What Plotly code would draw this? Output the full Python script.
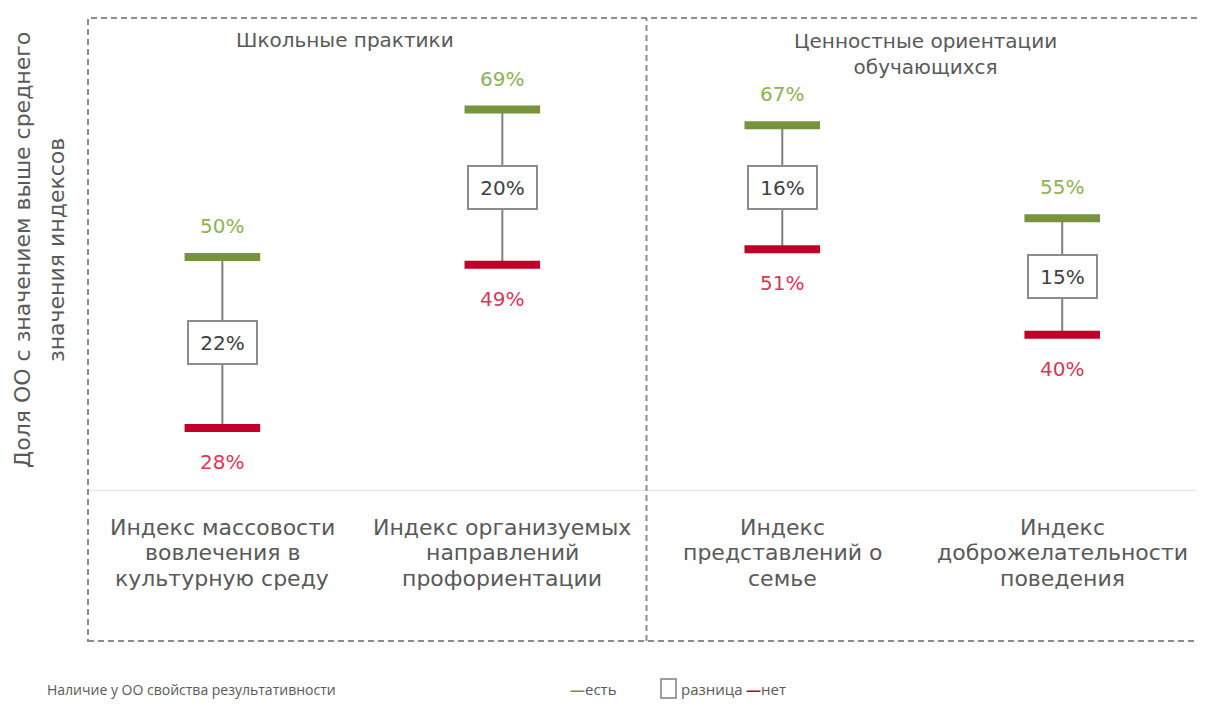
import plotly.graph_objects as go

# --- data ---
categories = [
    ["Индекс массовости", "вовлечения в", "культурную среду"],
    ["Индекс организуемых", "направлений", "профориентации"],
    ["Индекс", "представлений о", "семье"],
    ["Индекс", "доброжелательности", "поведения"],
]
has_result = [50, 69, 67, 55]   # есть
no_result = [28, 49, 51, 40]    # нет
groups = ["Школьные практики", "Ценностные ориентации<br>обучающихся"]
y_title = ["Доля ОО с значением выше среднего", "значения индексов"]
legend_title = "Наличие у ОО свойства результативности"

GREEN = "#77933C"
GREEN_TXT = "#8DB255"
RED = "#C00028"
RED_TXT = "#D8375A"
GRAY = "#595959"
FONT = "DejaVu Sans"

W, H = 1205, 716
PAGE = 8                 # body margin of the page
L, T, B, R = 88, 18, 490, 1205   # plot area, page pixels


def px(x):
    return (x - L) / (R - L)


def py(y):
    return (B - y) / (B - T)


xs = list(range(len(categories)))
diff = [a - b for a, b in zip(has_result, no_result)]

# connecting lines
lx, ly = [], []
for i in xs:
    lx += [i, i, None]
    ly += [has_result[i], no_result[i], None]

fig = go.Figure()
fig.add_trace(go.Scatter(x=lx, y=ly, mode="lines",
                         line=dict(color="#7f7f7f", width=2),
                         hoverinfo="skip", showlegend=False))
fig.add_trace(go.Scatter(x=xs, y=has_result, mode="markers", name="есть",
                         marker=dict(symbol="line-ew", size=54,
                                     line=dict(color=GREEN, width=8)),
                         showlegend=False))
fig.add_trace(go.Scatter(x=xs, y=no_result, mode="markers", name="нет",
                         marker=dict(symbol="line-ew", size=54,
                                     line=dict(color=RED, width=8)),
                         showlegend=False))

ann = []
for i in xs:
    ann.append(dict(x=i, y=has_result[i], text=f"{has_result[i]}%", showarrow=False,
                    yshift=31, font=dict(size=20, color=GREEN_TXT, family=FONT)))
    ann.append(dict(x=i, y=no_result[i], text=f"{no_result[i]}%", showarrow=False,
                    yshift=-34, font=dict(size=20, color=RED_TXT, family=FONT)))
    ann.append(dict(x=i, y=(has_result[i] + no_result[i]) / 2, text=f"{diff[i]}%",
                    showarrow=False, width=67, height=41, borderpad=0,
                    bordercolor="#8c8c8c", borderwidth=2, bgcolor="white",
                    font=dict(size=20, color="#404040", family=FONT)))
    for k, line in enumerate(categories[i]):
        ann.append(dict(x=i, y=py(527 + 25.5 * k), yref="paper", yanchor="middle",
                        xanchor="center", text=line, showarrow=False,
                        font=dict(size=22, color=GRAY, family=FONT)))

# group headers
ann.append(dict(x=px(345), y=py(40), xref="paper", yref="paper", text=groups[0],
                xanchor="center", yanchor="middle", showarrow=False,
                font=dict(size=20, color=GRAY, family=FONT)))
ann.append(dict(x=px(925), y=py(54), xref="paper", yref="paper", text=groups[1],
                xanchor="center", yanchor="middle", showarrow=False,
                font=dict(size=20, color=GRAY, family=FONT)))

# y title
for k, line in enumerate(y_title):
    ann.append(dict(x=px(22 + 34 * k), y=py(250), xref="paper", yref="paper", text=line,
                    textangle=-90, showarrow=False, xanchor="center", yanchor="middle",
                    font=dict(size=22, color=GRAY, family=FONT)))

# legend
ly0 = py(689)
lfont = dict(size=15, color=GRAY, family="Open Sans")
ann.append(dict(x=px(45), y=ly0, xref="paper", yref="paper", xanchor="left",
                yanchor="middle", text=legend_title, showarrow=False,
                font=dict(size=14, color=GRAY, family="Open Sans")))
ann.append(dict(x=px(568), y=ly0, xref="paper", yref="paper", xanchor="left",
                yanchor="middle", text=f"<span style='color:{GREEN}'><b>—</b></span>есть",
                showarrow=False, font=lfont))
ann.append(dict(x=px(679), y=ly0, xref="paper", yref="paper", xanchor="left",
                yanchor="middle", text="разница", showarrow=False, font=lfont))
ann.append(dict(x=px(744), y=ly0, xref="paper", yref="paper", xanchor="left",
                yanchor="middle", text=f"<span style='color:{RED}'><b>—</b></span>нет",
                showarrow=False, font=lfont))

dash = dict(color="#8c8c8c", width=2, dash="6px,4px")
shapes = [
    dict(type="rect", xref="paper", yref="paper", x0=0, x1=px(1201), y0=py(641), y1=1,
         line=dash),
    dict(type="line", xref="paper", yref="paper", x0=0.5, x1=0.5, y0=py(641), y1=1,
         line=dash),
    dict(type="rect", xref="paper", yref="paper", x0=px(661), x1=px(676),
         y0=py(698), y1=py(679), line=dict(color="#7f7f7f", width=1.5)),
]

fig.update_layout(
    width=W, height=H,
    margin=dict(l=L - PAGE, r=W - (R - PAGE), t=T - PAGE, b=H - (B - PAGE)),
    plot_bgcolor="white", paper_bgcolor="white",
    xaxis=dict(range=[-0.48, 3.51], showgrid=False, zeroline=False,
               showticklabels=False, ticks="", showline=True, linecolor="#e3e3e3",
               linewidth=1),
    yaxis=dict(range=[20, 80.8], showgrid=False, zeroline=False,
               showticklabels=False, ticks=""),
    annotations=ann, shapes=shapes,
    showlegend=False,
    font=dict(family=FONT, color=GRAY),
)

fig.write_html("out.html")
